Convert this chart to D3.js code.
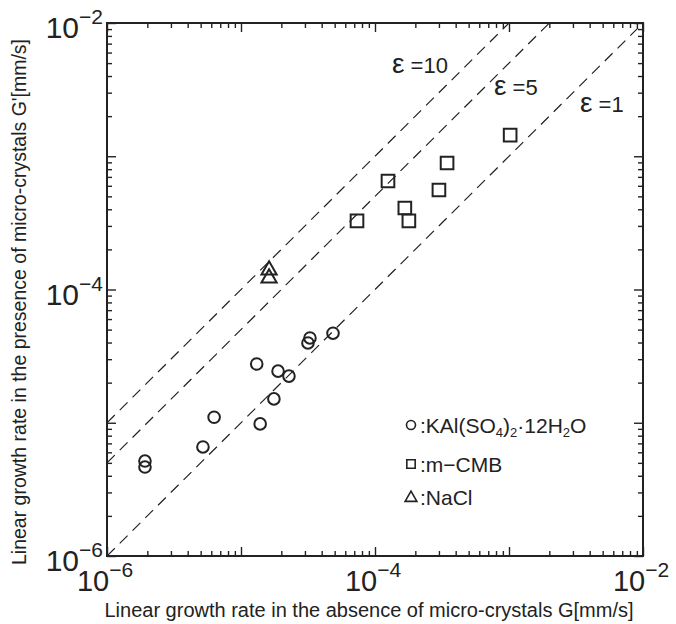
<!DOCTYPE html>
<html><head><meta charset="utf-8">
<script src="https://cdn.jsdelivr.net/npm/d3@7"></script>
<style>body{margin:0;background:#fff}svg{display:block}text{font-family:"Liberation Sans",Arial,Helvetica,sans-serif;fill:#222}</style>
</head><body><svg id="c" width="676" height="624"></svg>
<script>
// KAl(SO4)2·12H2O
const kalX = [1.92e-6, 1.92e-6, 5.2e-6, 6.3e-6, 1.31e-5, 1.39e-5, 1.89e-5, 1.76e-5, 2.28e-5, 3.16e-5, 3.27e-5, 4.86e-5];
const kalY = [5.16e-6, 4.65e-6, 6.58e-6, 1.1e-5, 2.76e-5, 9.8e-6, 2.44e-5, 1.51e-5, 2.24e-5, 3.97e-5, 4.33e-5, 4.7e-5];
// m-CMB
const cmbX = [7.34e-5, 1.25e-4, 3.45e-4, 3.0e-4, 1.67e-4, 1.79e-4, 1.02e-3];
const cmbY = [3.27e-4, 6.52e-4, 8.9e-4, 5.58e-4, 4.09e-4, 3.27e-4, 1.44e-3];
// NaCl
const naclX = [1.62e-5, 1.62e-5];
const naclY = [1.40e-4, 1.22e-4];
// reference lines G' = eps * G
const epsValues = [1, 5, 10];
const epsLabels = ["1", "5", "10"];
const majorTicks = [1e-6, 1e-5, 1e-4, 1e-3, 1e-2];
const majorLabels = [["10","−6"], null, ["10","−4"], null, ["10","−2"]];
const xTitle = "Linear growth rate in the absence of micro-crystals G[mm/s]";
const yTitle = "Linear growth rate in the presence of micro-crystals G'[mm/s]";

const svg = d3.select("#c");
const L = 107, R = 643, T = 23, B = 556;
const x = d3.scaleLog().domain([1e-6, 1e-2]).range([L, R]);
const y = d3.scaleLog().domain([1e-6, 1e-2]).range([B, T]);

const minorTicks = [];
for (let e = -6; e < -2; e++) for (let m = 2; m <= 9; m++) minorTicks.push(m * Math.pow(10, e));

function axisGroup(axisFn, scale, ticks, size, transform) {
  const g = svg.append("g").attr("transform", transform)
    .call(axisFn(scale).tickValues(ticks).tickSize(size).tickFormat(""));
  g.select(".domain").remove();
  g.selectAll("line").attr("stroke", "#222").attr("stroke-width", 1.4);
  return g;
}
[[d3.axisBottom, x, `translate(0,${B})`], [d3.axisTop, x, `translate(0,${T})`],
 [d3.axisLeft, y, `translate(${L},0)`], [d3.axisRight, y, `translate(${R},0)`]].forEach(([fn, s, tr]) => {
  axisGroup(fn, s, majorTicks, -9, tr);
  axisGroup(fn, s, minorTicks, -5, tr);
});

// frame
svg.append("rect").attr("x", L).attr("y", T).attr("width", R - L).attr("height", B - T)
  .attr("fill", "none").attr("stroke", "#222").attr("stroke-width", 2);

// clip for lines
svg.append("clipPath").attr("id", "clip").append("rect")
  .attr("x", L).attr("y", T).attr("width", R - L).attr("height", B - T);

const line = d3.line().x(d => x(d[0])).y(d => y(d[1]));
svg.append("g").attr("clip-path", "url(#clip)").selectAll("path").data(epsValues).join("path")
  .attr("d", e => line([[1e-6, 1e-6 * e], [1e-2 / e, 1e-2]]))
  .attr("fill", "none").attr("stroke", "#222").attr("stroke-width", 1.2)
  .attr("stroke-dasharray", "11,7");

// eps labels
const epsPos = [[580, 112], [494, 95], [392, 73]];
epsLabels.forEach((d, i) => {
  const t = svg.append("text").attr("x", epsPos[i][0]).attr("y", epsPos[i][1]).attr("font-size", 22);
  t.append("tspan").attr("font-size", 28).text("ε");
  t.append("tspan").text(" =" + d);
});

// tick labels
majorTicks.forEach((v, i) => {
  const lab = majorLabels[i]; if (!lab) return;
  const t = svg.append("text").attr("x", x(v) - 2).attr("y", B + 35).attr("text-anchor", "middle").attr("font-size", 29);
  t.append("tspan").text(lab[0]);
  t.append("tspan").attr("font-size", 21).attr("dy", -14).text(lab[1]);
  const t2 = svg.append("text").attr("x", L - 4).attr("y", y(v) + 15).attr("text-anchor", "end").attr("font-size", 30);
  t2.append("tspan").text(lab[0]);
  t2.append("tspan").attr("font-size", 21).attr("dy", -14).text(lab[1]);
});

// axis titles
svg.append("text").attr("x", 369).attr("y", 617).attr("text-anchor", "middle").attr("font-size", 20).text(xTitle);
svg.append("text").attr("transform", "translate(26,302) rotate(-90)").attr("text-anchor", "middle").attr("font-size", 19.5).text(yTitle);

// data marks
const kal = kalX.map((v, i) => [v, kalY[i]]);
const cmb = cmbX.map((v, i) => [v, cmbY[i]]);
const nacl = naclX.map((v, i) => [v, naclY[i]]);
svg.append("g").selectAll("circle").data(kal).join("circle")
  .attr("cx", d => x(d[0])).attr("cy", d => y(d[1])).attr("r", 5.8)
  .attr("fill", "none").attr("stroke", "#222").attr("stroke-width", 2);
const sq = d3.symbol().type(d3.symbolSquare).size(160);
svg.append("g").selectAll("path").data(cmb).join("path")
  .attr("transform", d => `translate(${x(d[0])},${y(d[1])})`).attr("d", sq)
  .attr("fill", "none").attr("stroke", "#222").attr("stroke-width", 2);
const tri = d3.symbol().type(d3.symbolTriangle).size(100);
svg.append("g").selectAll("path").data(nacl).join("path")
  .attr("transform", d => `translate(${x(d[0])},${y(d[1])})`).attr("d", tri)
  .attr("fill", "none").attr("stroke", "#222").attr("stroke-width", 2);

// legend
const lg = svg.append("g");
lg.append("circle").attr("cx", 411).attr("cy", 425).attr("r", 4.5).attr("fill", "none").attr("stroke", "#222").attr("stroke-width", 1.6);
const t1 = lg.append("text").attr("x", 420).attr("y", 433).attr("font-size", 21);
t1.append("tspan").text(":KAl(SO");
t1.append("tspan").attr("font-size", 13).attr("dy", 4).text("4");
t1.append("tspan").attr("dy", -4).text(")");
t1.append("tspan").attr("font-size", 13).attr("dy", 4).text("2");
t1.append("tspan").attr("dy", -4).text("·12H");
t1.append("tspan").attr("font-size", 13).attr("dy", 4).text("2");
t1.append("tspan").attr("dy", -4).text("O");
lg.append("path").attr("transform", "translate(411,464)").attr("d", d3.symbol().type(d3.symbolSquare).size(70)())
  .attr("fill", "none").attr("stroke", "#222").attr("stroke-width", 1.6);
lg.append("text").attr("x", 420).attr("y", 472).attr("font-size", 21).text(":m−CMB");
lg.append("path").attr("transform", "translate(411,498)").attr("d", d3.symbol().type(d3.symbolTriangle).size(60)())
  .attr("fill", "none").attr("stroke", "#222").attr("stroke-width", 1.6);
lg.append("text").attr("x", 420).attr("y", 505).attr("font-size", 21).text(":NaCl");
</script></body></html>
